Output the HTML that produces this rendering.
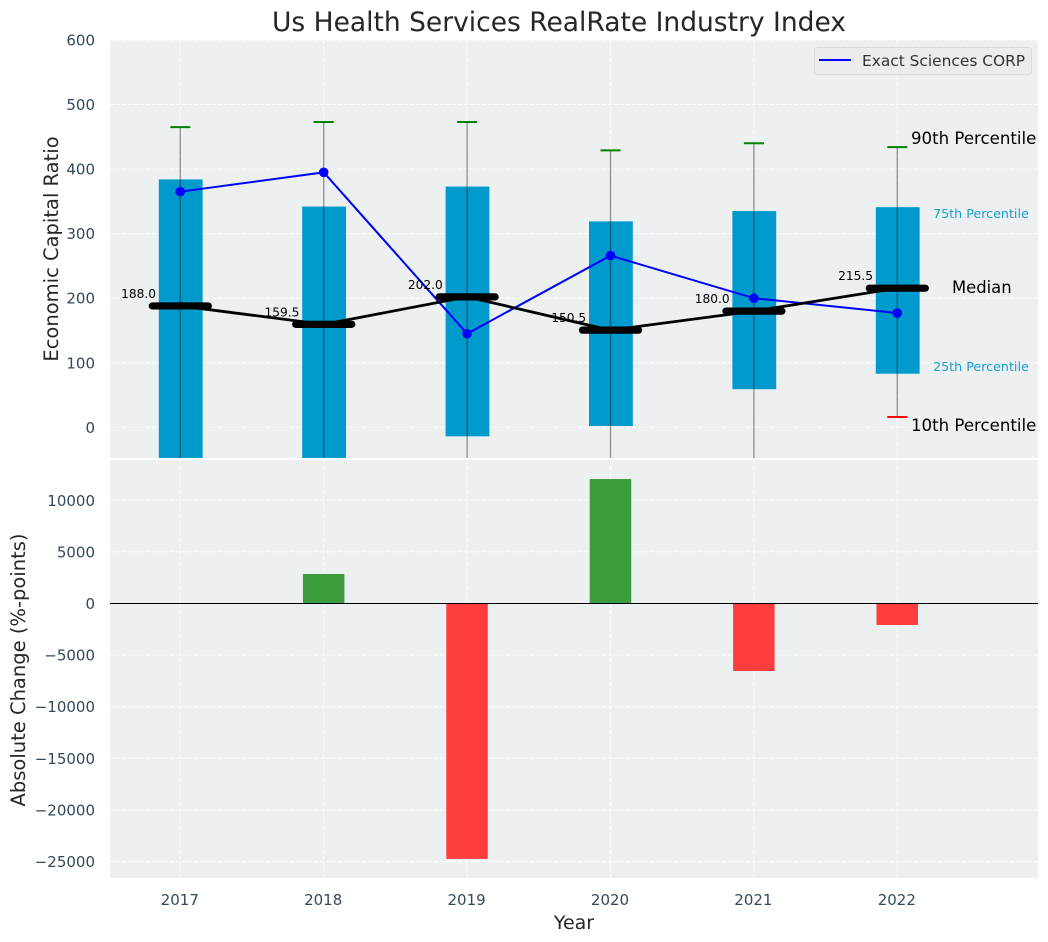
<!DOCTYPE html>
<html lang="en">
<head>
<meta charset="utf-8">
<title>Us Health Services RealRate Industry Index</title>
<style>
html,body{margin:0;padding:0;background:#fff;}
svg{display:block;font-family:"DejaVu Sans","Liberation Sans",sans-serif;}
</style>
</head>
<body>
<svg id="chart" xmlns="http://www.w3.org/2000/svg" width="1048" height="942" viewBox="0 0 1048 942">
  <defs>
    <clipPath id="clip-top"><rect x="110" y="40" width="928" height="418"></rect></clipPath>
    <clipPath id="clip-bottom"><rect x="110" y="460" width="928" height="418"></rect></clipPath>
  </defs>
</svg>
<script>
const years = [2017, 2018, 2019, 2020, 2021, 2022];
const p90 = [465, 473, 473, 429, 440, 434];
const p75 = [384, 342, 373, 319, 335, 341];
const medians = [188.0, 159.5, 202.0, 150.5, 180.0, 215.5];
const p25 = [-70, -80, -14, 2, 59, 83];
const p10 = [-120, -130, -90, -100, -60, 16];
const companyValues = [365, 395, 145, 266, 200, 177];
const changes = [0, 2860, -24750, 12060, -6540, -2080];
const topTicks = [0, 100, 200, 300, 400, 500, 600];
const bottomTicks = [-25000, -20000, -15000, -10000, -5000, 0, 5000, 10000];
const seriesName = 'Exact Sciences CORP';

const svg = document.getElementById('chart');
const NS = 'http://www.w3.org/2000/svg';
function make(tag, attrs, parent, text) {
  const e = document.createElementNS(NS, tag);
  for (const k in attrs) e.setAttribute(k, attrs[k]);
  if (text !== undefined) e.textContent = text;
  (parent || svg).appendChild(e);
  return e;
}
const xAt = v => 180.3 + (v - 2017) * 143.4;
const yTop = v => 427.3 - v * 0.6455;
const yBottom = v => 603.5 - v * 0.01032;
const fmt = n => String(n).replace('-', '\u2212');
const tickColor = '#34495e';
const barColor = '#009acd';
const tickSize = 15;

const title = make('text', {x: 559, y: 31, 'text-anchor': 'middle', 'font-size': 26.5, fill: '#262626'}, svg, 'Us Health Services RealRate Industry Index');



const topPanel = make('rect', {x: 110, y: 40, width: 928, height: 418, fill: '#ecf0f1'});


const bottomPanel = make('rect', {x: 110, y: 460, width: 928, height: 418, fill: '#ecf0f1'});



const gridStyle = {stroke: '#ffffff', 'stroke-width': 1, 'stroke-dasharray': '4 2', 'stroke-opacity': 0.85};
const gridTop = make('g', {'clip-path': 'url(#clip-top)'});


const gridBottom = make('g', {'clip-path': 'url(#clip-bottom)'});



topTicks.forEach(t => {
  const g = make('line', Object.assign({x1: 110, x2: 1038, y1: yTop(t), y2: yTop(t)}, gridStyle), gridTop);
  
  
  const l = make('text', {x: 95, y: yTop(t) + 5.5, 'text-anchor': 'end', 'font-size': tickSize, fill: tickColor}, svg, fmt(t));
  
  
});
bottomTicks.forEach(t => {
  const g = make('line', Object.assign({x1: 110, x2: 1038, y1: yBottom(t), y2: yBottom(t)}, gridStyle), gridBottom);
  
  
  const l = make('text', {x: 95, y: yBottom(t) + 5.5, 'text-anchor': 'end', 'font-size': tickSize, fill: tickColor}, svg, fmt(t));
  
  
});
years.forEach(y => {
  const a = make('line', Object.assign({x1: xAt(y), x2: xAt(y), y1: 40, y2: 458}, gridStyle), gridTop);
  
  
  const b = make('line', Object.assign({x1: xAt(y), x2: xAt(y), y1: 460, y2: 878}, gridStyle), gridBottom);
  
  
  const l = make('text', {x: xAt(y) - 0.5, y: 905, 'text-anchor': 'middle', 'font-size': tickSize, fill: tickColor}, svg, String(y));
  
  
});

const topMarks = make('g', {'clip-path': 'url(#clip-top)'});



years.forEach((y, i) => {
  const x = xAt(y);
  const box = make('rect', {x: x - 21.5, y: yTop(p75[i]), width: 43.8, height: yTop(p25[i]) - yTop(p75[i]), fill: barColor}, topMarks);
  
  
  const w = make('line', {x1: x, x2: x, y1: yTop(p90[i]), y2: yTop(p10[i]), stroke: '#000', 'stroke-width': 1.3, 'stroke-opacity': 0.42}, topMarks);
  
  
  const c1 = make('line', {x1: x - 10, x2: x + 10, y1: yTop(p90[i]), y2: yTop(p90[i]), stroke: '#008000', 'stroke-width': 2}, topMarks);
  
  
  const c2 = make('line', {x1: x - 10, x2: x + 10, y1: yTop(p10[i]), y2: yTop(p10[i]), stroke: '#ff0000', 'stroke-width': 2}, topMarks);
  
  
});

const companyLine = make('polyline', {points: years.map((y, i) => xAt(y) + ',' + yTop(companyValues[i])).join(' '), fill: 'none', stroke: '#0000ff', 'stroke-width': 2}, topMarks);


years.forEach((y, i) => {
  const p = make('circle', {cx: xAt(y), cy: yTop(companyValues[i]), r: 4.8, fill: '#0000ff'}, topMarks);
  
  
});

const medianLine = make('polyline', {points: years.map((y, i) => xAt(y) + ',' + yTop(medians[i])).join(' '), fill: 'none', stroke: '#000', 'stroke-width': 2.8}, topMarks);


years.forEach((y, i) => {
  const x = xAt(y);
  const m = make('line', {x1: x - 28, x2: x + 28, y1: yTop(medians[i]), y2: yTop(medians[i]), stroke: '#000', 'stroke-width': 7.2, 'stroke-linecap': 'round'}, topMarks);
  
  
  const t = make('text', {x: x - 24.3, y: yTop(medians[i]) - 8, 'text-anchor': 'end', 'font-size': 12.2, fill: '#000'}, svg, medians[i].toFixed(1));
  
  
});

const bottomMarks = make('g', {'clip-path': 'url(#clip-bottom)'});


years.forEach((y, i) => {
  const v = changes[i];
  const b = make('rect', {x: xAt(y) - 20.8, y: Math.min(yBottom(v), yBottom(0)), width: 41.5, height: Math.abs(yBottom(v) - yBottom(0)), fill: v >= 0 ? '#3b9c3c' : '#ff3d3d'}, bottomMarks);
  
  
});
const zero = make('line', {x1: 110, x2: 1038, y1: yBottom(0), y2: yBottom(0), stroke: '#000', 'stroke-width': 1.1});



const a90 = make('text', {x: 911, y: 144, 'font-size': 16.6, fill: '#000'}, svg, '90th Percentile');


const a75 = make('text', {x: 933, y: 218, 'font-size': 12.7, fill: '#1a9fcf'}, svg, '75th Percentile');


const aMed = make('text', {x: 952, y: 293, 'font-size': 16.4, fill: '#000'}, svg, 'Median');


const a25 = make('text', {x: 933, y: 371, 'font-size': 12.7, fill: '#1a9fcf'}, svg, '25th Percentile');


const a10 = make('text', {x: 911, y: 431, 'font-size': 16.6, fill: '#000'}, svg, '10th Percentile');



const legend = make('g', {});


const legendBox = make('rect', {x: 814.5, y: 47.5, width: 217, height: 27, rx: 3, fill: '#eaecf0', stroke: '#d8dadd', 'stroke-width': 1}, legend);


const legendKey = make('line', {x1: 819, x2: 851, y1: 60, y2: 60, stroke: '#0000ff', 'stroke-width': 2}, legend);


const legendText = make('text', {x: 862, y: 66, 'font-size': 15.4, fill: '#333333'}, legend, seriesName);



const yl1 = make('text', {x: 0, y: 0, transform: 'translate(58 249) rotate(-90)', 'text-anchor': 'middle', 'font-size': 19.5, fill: '#262626'}, svg, 'Economic Capital Ratio');


const yl2 = make('text', {x: 0, y: 0, transform: 'translate(25 670) rotate(-90)', 'text-anchor': 'middle', 'font-size': 19.5, fill: '#262626'}, svg, 'Absolute Change (%-points)');


const xl = make('text', {x: 574, y: 929, 'text-anchor': 'middle', 'font-size': 19, fill: '#262626'}, svg, 'Year');


</script>
</body>
</html>
